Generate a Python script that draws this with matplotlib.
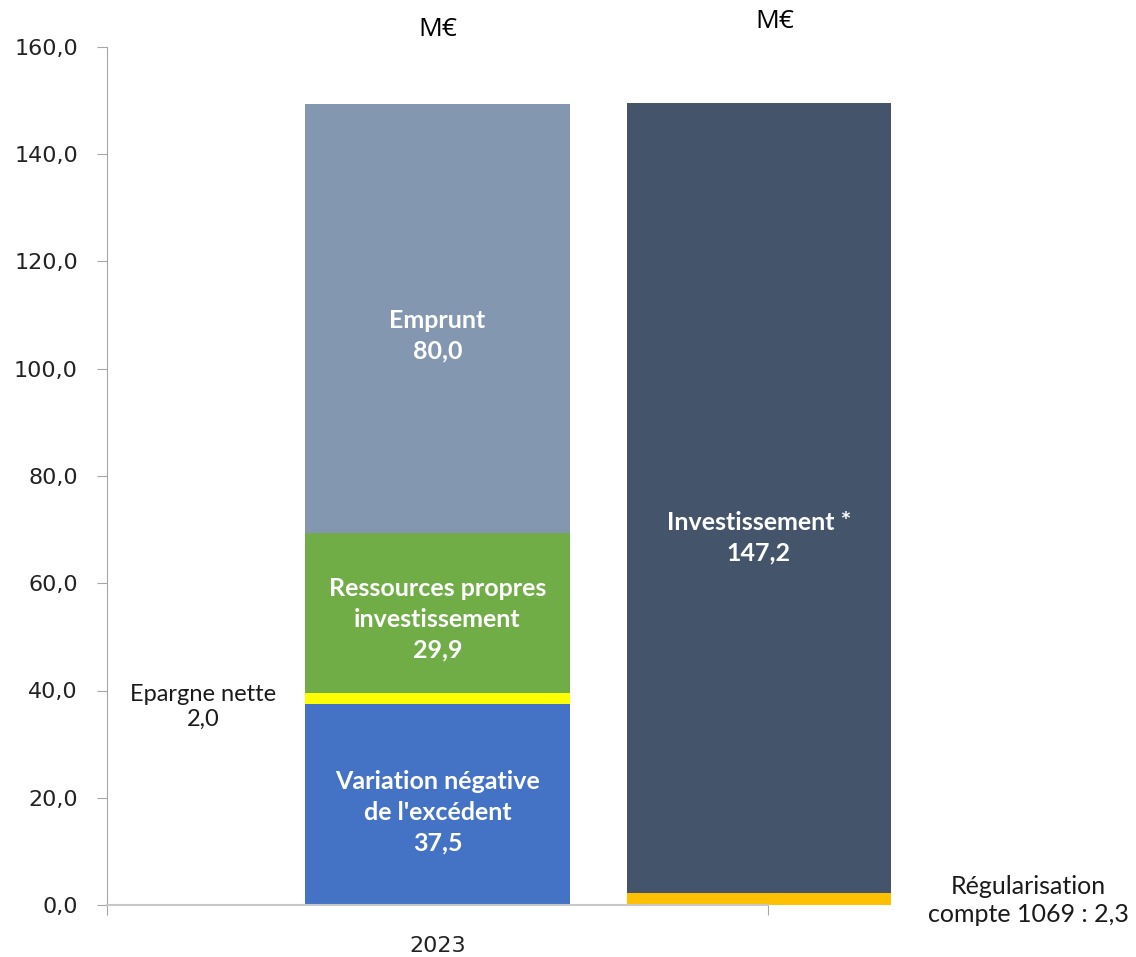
import matplotlib.pyplot as plt
import numpy as np

# data (M€)
categories = ['2023']
left_labels = ["Variation négative\nde l'excédent", 'Epargne nette',
               'Ressources propres\ninvestissement', 'Emprunt']
left_vals = [37.5, 2.0, 29.9, 80.0]
left_colors = ['#4472C4', '#FFFF00', '#70AD47', '#8497B0']

right_labels = ['Régularisation\ncompte 1069', 'Investissement *']
right_vals = [2.3, 147.2]
right_colors = ['#FFC000', '#44546A']

yticks = np.arange(0, 161, 20)


def fmt(v):
    return f'{v:.1f}'.replace('.', ',')


fig = plt.figure(figsize=(11.36, 9.57), dpi=100)
ax = fig.add_axes([107/1136, 1 - 905/957, (768-107)/1136, (905-47)/957])

x0 = 0.0
x1 = 0.486
w = 0.40

bottom = 0
for lab, v, c in zip(left_labels, left_vals, left_colors):
    ax.bar(x0, v, w, bottom=bottom, color=c, clip_on=False)
    if lab == 'Epargne nette':
        ax.text(-0.355, bottom - 0.6, lab + '\n' + fmt(v), ha='center', va='center',
                fontsize=17, family='Lato', color='#1a1a1a', linespacing=1.25)
    else:
        ax.text(x0, bottom + v*0.46, lab + '\n' + fmt(v), ha='center', va='center',
                fontsize=18, family='Lato', fontweight='bold', color='white',
                linespacing=1.4)
    bottom += v

bottom = 0
for lab, v, c in zip(right_labels, right_vals, right_colors):
    ax.bar(x1, v, w, bottom=bottom, color=c, clip_on=False)
    if lab.startswith('Régularisation'):
        ax.text(x1 + 0.408, bottom + v/2 - 0.3, lab + ' : ' + fmt(v), ha='center',
                va='center', fontsize=18, family='Lato', color='#1a1a1a',
                linespacing=1.25, clip_on=False)
    else:
        ax.text(x1, bottom + v*0.45, lab + '\n' + fmt(v), ha='center', va='center',
                fontsize=18, family='Lato', fontweight='bold', color='white',
                linespacing=1.4)
    bottom += v

ax.text(x0, 163.2, 'M€', ha='center', va='center', fontsize=19, family='Open Sans')
ax.text(x1 + 0.025, 164.7, 'M€', ha='center', va='center', fontsize=19, family='Open Sans')

ax.set_xlim(-0.5, 0.5)
ax.set_ylim(0, 160)
ax.set_yticks(yticks)
ax.set_yticklabels([fmt(t) for t in yticks], fontsize=16, color='#222222')

ax.set_xticks([-0.5, 0.5])
ax.set_xticklabels(['', ''])
ax.set_xticks([0], minor=True)
ax.set_xticklabels(categories, minor=True, fontsize=16, color='#222222')
ax.tick_params(axis='x', which='minor', length=0, pad=22)
ax.tick_params(axis='x', which='major', length=7, color='#A6A6A6')
ax.tick_params(axis='y', length=7, color='#A6A6A6', pad=14)

for s in ['top', 'right']:
    ax.spines[s].set_visible(False)
ax.spines['left'].set_color('#A6A6A6')
ax.spines['bottom'].set_color('#C8C8C8')
ax.spines['bottom'].set_linewidth(1.5)

plt.savefig('out.png', dpi=100)
